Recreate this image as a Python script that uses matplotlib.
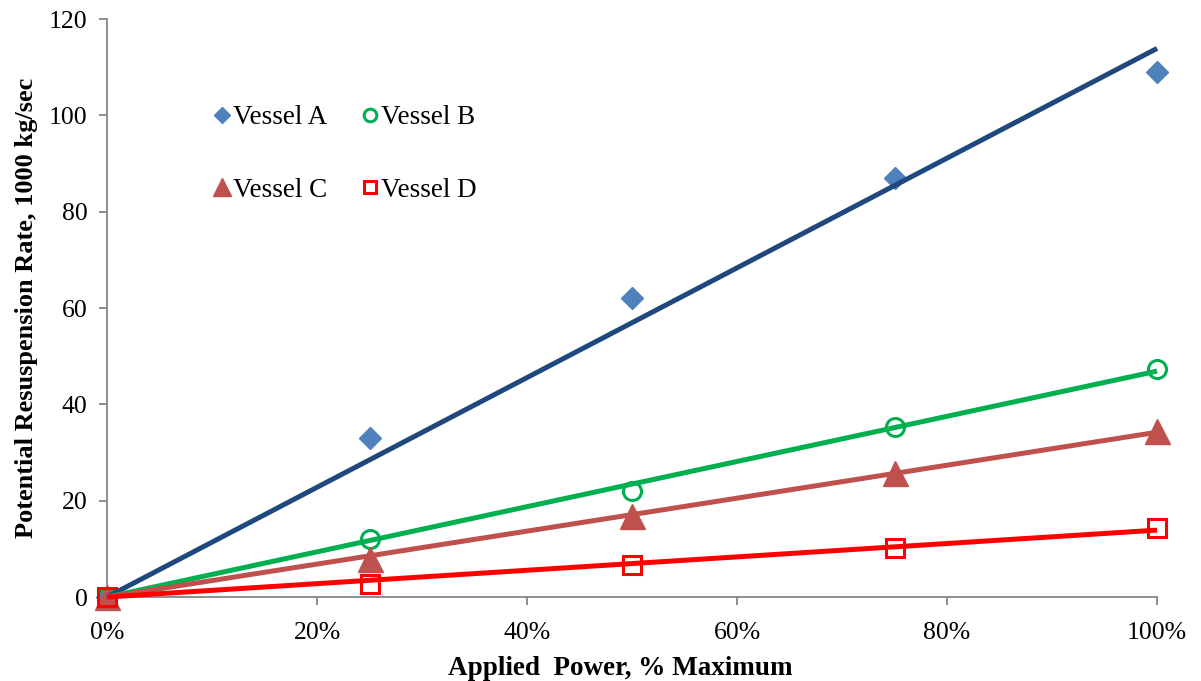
import numpy as np
import matplotlib
matplotlib.use("Agg")
import matplotlib.pyplot as plt
from matplotlib.ticker import PercentFormatter

plt.rcParams['font.family'] = ['Liberation Serif', 'DejaVu Serif']

# applied power fraction and resuspension rate (1000 kg/sec)
power = [0.0, 0.25, 0.50, 0.75, 1.00]
vessel_a = [0.0, 33.0, 62.0, 87.1, 109.0]
vessel_b = [0.0, 12.0, 22.0, 35.4, 47.4]
vessel_c = [0.0, 8.0, 16.8, 25.8, 34.4]
vessel_d = [0.0, 2.8, 6.6, 10.2, 14.4]

names = ["Vessel A", "Vessel B", "Vessel C", "Vessel D"]
series = [vessel_a, vessel_b, vessel_c, vessel_d]
markers = ["D", "o", "^", "s"]
msizes = [11, 13, 18, 13]
face = ["#4F81BD", "none", "#C0504D", "none"]
edge = ["#4F81BD", "#00B050", "#C0504D", "#FF0000"]
line_col = ["#1F497D", "#00B050", "#C0504D", "#FF0000"]

fig = plt.figure(figsize=(12.01, 6.81), dpi=100)
ax = fig.add_axes([0.0891, 0.1233, 0.8743, 0.8487])

x = np.array(power)
handles = {}
for i in range(4):
    y = np.array(series[i])
    h, = ax.plot(x, y, linestyle="none", marker=markers[i], markersize=msizes[i],
                 markerfacecolor=face[i], markeredgecolor=edge[i],
                 markeredgewidth=2.2 if face[i] == "none" else 1, label=names[i],
                 zorder=3, clip_on=False)
    handles[names[i]] = h
    # linear trendline forced through zero
    k = np.sum(x * y) / np.sum(x * x)
    xs = np.array([0.0, 1.0])
    ax.plot(xs, k * xs, color=line_col[i], linewidth=3.6, zorder=4,
            solid_capstyle="butt", clip_on=False)

ax.set_xlim(0, 1)
ax.set_ylim(0, 120)
ax.set_yticks(np.arange(0, 121, 20))
ax.set_xticks(np.arange(0, 1.01, 0.2))
ax.xaxis.set_major_formatter(PercentFormatter(1.0, decimals=0))

for s in ["top", "right"]:
    ax.spines[s].set_visible(False)
for s in ["left", "bottom"]:
    ax.spines[s].set_color("#868686")
    ax.spines[s].set_linewidth(1.3)
ax.tick_params(axis="both", direction="out", length=6, width=1.3,
               color="#868686", labelsize=18.5)
ax.tick_params(axis="y", pad=8)
ax.tick_params(axis="x", pad=12)

ax.set_xlabel("Applied  Power, % Maximum", fontsize=19.5, fontweight="bold")
ax.xaxis.set_label_coords(0.489, -0.102)
ax.set_ylabel("Potential Resuspension Rate, 1000 kg/sec", fontsize=19,
              fontweight="bold", labelpad=8)

order = ["Vessel A", "Vessel C", "Vessel B", "Vessel D"]
ax.legend([handles[n] for n in order], order, ncol=2, frameon=False,
          fontsize=19.5, markerscale=0.7, handlelength=0.5, handletextpad=0.15,
          columnspacing=1.33, labelspacing=1.75,
          loc="upper left", bbox_to_anchor=(0.08, 0.893))

fig.savefig("out.png", dpi=100)
